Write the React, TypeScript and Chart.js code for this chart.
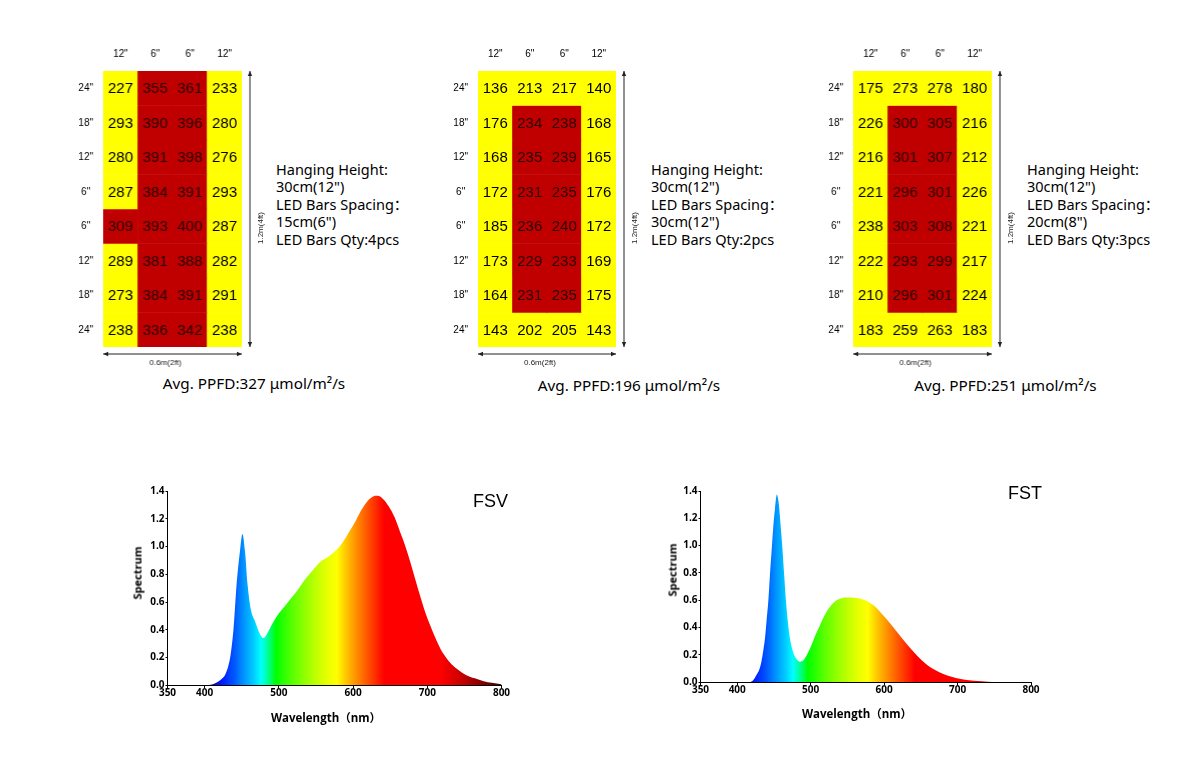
import React, { useEffect, useRef } from "react";
import { Chart, registerables } from "chart.js";

Chart.register(...registerables);

// ---------- PPFD grid data ----------
const COLUMN_LABELS = ['12"', '6"', '6"', '12"'];
const ROW_LABELS = ['24"', '18"', '12"', '6"', '6"', '12"', '18"', '24"'];

const GRID1_VALUES = [
  [227, 355, 361, 233],
  [293, 390, 396, 280],
  [280, 391, 398, 276],
  [287, 384, 391, 293],
  [309, 393, 400, 287],
  [289, 381, 388, 282],
  [273, 384, 391, 291],
  [238, 336, 342, 238],
];
const GRID1_HIGH = [
  [0, 1, 1, 0],
  [0, 1, 1, 0],
  [0, 1, 1, 0],
  [0, 1, 1, 0],
  [1, 1, 1, 0],
  [0, 1, 1, 0],
  [0, 1, 1, 0],
  [0, 1, 1, 0],
];

const GRID2_VALUES = [
  [136, 213, 217, 140],
  [176, 234, 238, 168],
  [168, 235, 239, 165],
  [172, 231, 235, 176],
  [185, 236, 240, 172],
  [173, 229, 233, 169],
  [164, 231, 235, 175],
  [143, 202, 205, 143],
];
const GRID2_HIGH = [
  [0, 0, 0, 0],
  [0, 1, 1, 0],
  [0, 1, 1, 0],
  [0, 1, 1, 0],
  [0, 1, 1, 0],
  [0, 1, 1, 0],
  [0, 1, 1, 0],
  [0, 0, 0, 0],
];

const GRID3_VALUES = [
  [175, 273, 278, 180],
  [226, 300, 305, 216],
  [216, 301, 307, 212],
  [221, 296, 301, 226],
  [238, 303, 308, 221],
  [222, 293, 299, 217],
  [210, 296, 301, 224],
  [183, 259, 263, 183],
];
const GRID3_HIGH = GRID2_HIGH;

const HANGING_HEIGHT = ['30cm(12")', '30cm(12")', '30cm(12")'];
const BAR_SPACING = ['15cm(6")', '30cm(12")', '20cm(8")'];
const BAR_QTY = [4, 2, 3];
const AVG_PPFD = [327, 196, 251];

// ---------- Spectrum data ----------
const FSV_WAVELENGTH = [
  350, 400, 405, 412, 418, 424, 428, 432, 435, 439, 443, 447.5, 451, 454.5, 458,
  462.5, 468, 474, 479, 486, 492, 499, 508, 517, 526, 535, 546, 556, 565, 572,
  582, 594, 604, 612, 620, 627, 633, 640, 648, 656, 663, 670, 677, 684, 690, 697,
  704, 711, 718, 724, 733, 742, 752, 764, 776, 787, 800,
];
const FSV_SPECTRUM = [
  0, 0, 0.002, 0.01, 0.026, 0.05, 0.08, 0.14, 0.22, 0.41, 0.72, 0.96, 1.09, 0.96, 0.72,
  0.54, 0.46, 0.375, 0.34, 0.39, 0.45, 0.51, 0.57, 0.63, 0.69, 0.76, 0.83, 0.89, 0.92, 0.95,
  1.0, 1.1, 1.19, 1.27, 1.33, 1.36, 1.365, 1.345, 1.29, 1.21, 1.11, 1.01, 0.89, 0.76, 0.65, 0.53,
  0.43, 0.34, 0.26, 0.21, 0.15, 0.11, 0.075, 0.05, 0.03, 0.018, 0.007,
];

const FST_WAVELENGTH = [
  350, 417, 422, 426, 430, 433, 435.5, 438, 440, 442.3, 444.5, 446.8, 449, 451.4, 454,
  456, 457.3, 459.5, 461.8, 464, 466.4, 469, 471.8, 475, 478.6, 482, 485.4, 489, 492,
  496, 501, 507, 513, 519, 526, 533, 540, 547, 554, 560, 567, 574, 580, 586, 592, 601,
  610, 619, 628, 637, 646, 655, 664, 676, 687, 699, 710, 722, 733, 748, 800,
];
const FST_SPECTRUM = [
  0, 0, 0.015, 0.05, 0.09, 0.15, 0.23, 0.33, 0.45, 0.59, 0.78, 0.96, 1.13, 1.27, 1.375,
  1.33, 1.27, 1.12, 0.96, 0.78, 0.59, 0.44, 0.32, 0.24, 0.186, 0.16, 0.149, 0.155, 0.173,
  0.21, 0.27, 0.35, 0.42, 0.49, 0.55, 0.59, 0.61, 0.62, 0.62, 0.618, 0.612, 0.6, 0.583, 0.56, 0.53, 0.475,
  0.418, 0.357, 0.296, 0.24, 0.186, 0.142, 0.105, 0.07, 0.046, 0.028, 0.017, 0.009, 0.005, 0, 0,
];

const X_TICK_VALUES = [350, 400, 500, 600, 700, 800];
const Y_TICK_VALUES = [0, 0.2, 0.4, 0.6, 0.8, 1.0, 1.2, 1.4];

// colour of light by wavelength (style)
const SPECTRUM_STOPS: [number, string][] = [
  [395, "#1a0090"], [412, "#1000c8"], [425, "#0020ff"], [440, "#0058ff"], [452, "#0090ff"],
  [465, "#00c8ff"], [476, "#00ffff"], [487, "#00ff80"], [496, "#00ff00"], [520, "#60ff00"],
  [545, "#b0ff00"], [565, "#e8ff00"], [578, "#ffff00"], [592, "#ffc000"], [608, "#ff8000"],
  [625, "#ff4000"], [642, "#ff0000"], [718, "#ff0000"], [750, "#c00000"], [775, "#800000"],
  [800, "#4a0000"],
];

const RED = "#c00000";
const YELLOW = "#ffff00";

function drawArrow(ctx: CanvasRenderingContext2D, x1: number, y1: number, x2: number, y2: number) {
  const ang = Math.atan2(y2 - y1, x2 - x1);
  const head = 5;
  const hw = 2.2;
  ctx.beginPath();
  ctx.moveTo(x1, y1);
  ctx.lineTo(x2, y2);
  ctx.stroke();
  const tip = (x: number, y: number, a: number) => {
    ctx.beginPath();
    ctx.moveTo(x, y);
    ctx.lineTo(x - head * Math.cos(a) + hw * Math.sin(a), y - head * Math.sin(a) - hw * Math.cos(a));
    ctx.lineTo(x - head * Math.cos(a) - hw * Math.sin(a), y - head * Math.sin(a) + hw * Math.cos(a));
    ctx.closePath();
    ctx.fill();
  };
  tip(x2, y2, ang);
  tip(x1, y1, ang + Math.PI);
}

const GRID_Y_AXIS_W = 35;
const GRID_X_AXIS_H = 31;
const GRID_PAD_R = 28;
const GRID_PAD_B = 24;
const GRID_AREA_W = 138.5;
const GRID_AREA_H = 276;

function PpfdGrid({ values, high, areaLeft, areaTop }: { values: number[][]; high: number[][]; areaLeft: number; areaTop: number }) {
  const ref = useRef<HTMLCanvasElement>(null);
  const width = GRID_Y_AXIS_W + GRID_AREA_W + GRID_PAD_R;
  const height = GRID_X_AXIS_H + GRID_AREA_H + GRID_PAD_B;
  useEffect(() => {
    const labelPlugin = {
      id: "cellLabels",
      afterDatasetsDraw(chart: any) {
        const ctx = chart.ctx as CanvasRenderingContext2D;
        ctx.save();
        ctx.font = '15px "Liberation Sans", Arial, sans-serif';
        ctx.textAlign = "center";
        ctx.textBaseline = "middle";
        chart.data.datasets.forEach((_: any, r: number) => {
          const meta = chart.getDatasetMeta(r);
          meta.data.forEach((bar: any, c: number) => {
            const { x, y, base } = bar.getProps(["x", "y", "base"], true);
            ctx.fillStyle = high[r][c] ? "#2a0000" : "#000";
            ctx.fillText(String(values[r][c]), x, (y + base) / 2 + 1);
          });
        });
        ctx.restore();
      },
      afterDraw(chart: any) {
        const ctx = chart.ctx as CanvasRenderingContext2D;
        const a = chart.chartArea;
        ctx.save();
        ctx.strokeStyle = "#222";
        ctx.fillStyle = "#222";
        ctx.lineWidth = 1;
        const vx = a.right + 8;
        drawArrow(ctx, vx, a.top, vx, a.bottom);
        const hy = a.bottom + 7;
        drawArrow(ctx, a.left, hy, a.right, hy);
        ctx.font = '8px "Liberation Sans", Arial, sans-serif';
        ctx.fillStyle = "#222";
        ctx.textAlign = "center";
        ctx.textBaseline = "middle";
        ctx.fillText("0.6m(2ft)", (a.left + a.right) / 2 - 7, a.bottom + 16);
        ctx.translate(a.right + 19, (a.top + a.bottom) / 2 + 19);
        ctx.rotate(-Math.PI / 2);
        ctx.fillText("1.2m(4ft)", 0, 0);
        ctx.restore();
      },
    };
    const chart = new Chart(ref.current as HTMLCanvasElement, {
      type: "bar",
      data: {
        labels: COLUMN_LABELS,
        datasets: ROW_LABELS.map((row, r) => ({
          label: row,
          data: COLUMN_LABELS.map(() => 1),
          backgroundColor: high[r].map((h) => (h ? RED : YELLOW)),
          borderWidth: 0,
          barPercentage: 1,
          categoryPercentage: 1,
        })),
      },
      options: {
        animation: false,
        responsive: false,
        maintainAspectRatio: false,
        events: [],
        layout: { padding: { top: 0, left: 0, right: GRID_PAD_R, bottom: GRID_PAD_B } },
        plugins: { legend: { display: false }, tooltip: { enabled: false } },
        scales: {
          x: {
            type: "category",
            position: "top",
            stacked: true,
            grid: { display: false, drawTicks: false },
            border: { display: false },
            ticks: {
              color: "#000",
              font: { family: '"Liberation Sans", Arial, sans-serif', size: 10 },
              padding: 11,
              maxRotation: 0,
              autoSkip: false,
            },
            afterFit: (s: any) => {
              s.height = GRID_X_AXIS_H;
            },
          },
          y: {
            type: "linear",
            stacked: true,
            min: 0,
            max: ROW_LABELS.length,
            reverse: true,
            grid: { display: false, drawTicks: false },
            border: { display: false },
            afterBuildTicks: (s: any) => {
              s.ticks = ROW_LABELS.map((_, i) => ({ value: i + 0.5 }));
            },
            ticks: {
              color: "#000",
              font: { family: '"Liberation Sans", Arial, sans-serif', size: 10 },
              padding: 10,
              crossAlign: "center",
              autoSkip: false,
              callback: (_v: any, i: number) => ROW_LABELS[i],
            },
            afterFit: (s: any) => {
              s.width = GRID_Y_AXIS_W;
            },
          },
        },
      } as any,
      plugins: [labelPlugin],
    });
    return () => chart.destroy();
  }, []);
  return (
    <canvas
      ref={ref}
      width={width}
      height={height}
      style={{ position: "absolute", left: areaLeft - GRID_Y_AXIS_W, top: areaTop - GRID_X_AXIS_H, width, height }}
    />
  );
}

function SpectrumChart({
  wavelength,
  spectrum,
  left,
  top,
  axisW,
  axisH,
  padRight,
}: {
  wavelength: number[];
  spectrum: number[];
  left: number;
  top: number;
  axisW: number;
  axisH: number;
  padRight: number;
}) {
  const ref = useRef<HTMLCanvasElement>(null);
  const width = 400;
  const height = 250;
  useEffect(() => {
    const tickFont = { family: '"Open Sans", "Noto Sans", sans-serif', size: 10, weight: 700 as any, lineHeight: 1 };
    const chart = new Chart(ref.current as HTMLCanvasElement, {
      type: "line",
      data: {
        datasets: [
          {
            data: wavelength.map((w, i) => ({ x: w, y: spectrum[i] })),
            borderWidth: 0,
            borderColor: "rgba(0,0,0,0)",
            pointRadius: 0,
            fill: "origin",
            cubicInterpolationMode: "monotone",
            backgroundColor: (c: any) => {
              const ch = c.chart;
              if (!ch.chartArea) return "rgba(0,0,0,0)";
              const xs = ch.scales.x;
              const x0 = xs.getPixelForValue(350);
              const x1 = xs.getPixelForValue(800);
              const g = ch.ctx.createLinearGradient(x0, 0, x1, 0);
              SPECTRUM_STOPS.forEach(([w, col]) => g.addColorStop(Math.min(1, Math.max(0, (w - 350) / 450)), col));
              return g;
            },
          },
        ],
      },
      options: {
        animation: false,
        responsive: false,
        maintainAspectRatio: false,
        events: [],
        layout: { padding: { top: 11, left: 0, right: padRight, bottom: 0 } },
        plugins: { legend: { display: false }, tooltip: { enabled: false } },
        scales: {
          x: {
            type: "linear",
            min: 350,
            max: 800,
            afterBuildTicks: (s: any) => {
              s.ticks = X_TICK_VALUES.map((v) => ({ value: v }));
            },
            grid: { display: true, drawOnChartArea: false, drawTicks: true, tickLength: 3, color: "#000", tickColor: "#000" },
            border: { display: true, color: "#000", width: 1 },
            ticks: { color: "#000", font: tickFont, padding: 0, maxRotation: 0, autoSkip: false, callback: (v: any) => String(v) },
            afterFit: (s: any) => {
              s.height = axisH;
            },
          },
          y: {
            type: "linear",
            min: 0,
            max: 1.4,
            afterBuildTicks: (s: any) => {
              s.ticks = Y_TICK_VALUES.map((v) => ({ value: v }));
            },
            grid: { display: true, drawOnChartArea: false, drawTicks: true, tickLength: 2, color: "#000", tickColor: "#000" },
            border: { display: true, color: "#000", width: 1 },
            ticks: { color: "#000", font: tickFont, padding: 1, autoSkip: false, callback: (v: any) => Number(v).toFixed(1) },
            afterFit: (s: any) => {
              s.width = axisW;
            },
          },
        },
      } as any,
    });
    return () => chart.destroy();
  }, []);
  return <canvas ref={ref} width={width} height={height} style={{ position: "absolute", left, top, width, height }} />;
}

const infoFont = '"Noto Sans", "Noto Sans CJK SC", sans-serif';

function InfoBlock({ i, left }: { i: number; left: number }) {
  return (
    <div
      style={{
        position: "absolute",
        left,
        top: 160.6,
        fontFamily: infoFont,
        fontSize: 14.5,
        lineHeight: "17.5px",
        color: "#000",
        whiteSpace: "pre",
      }}
    >
      <div>Hanging Height:</div>
      <div>{HANGING_HEIGHT[i]}</div>
      <div>LED Bars Spacing：</div>
      <div>{BAR_SPACING[i]}</div>
      <div>{`LED Bars Qty:${BAR_QTY[i]}pcs`}</div>
    </div>
  );
}

function AvgLabel({ i, cx, top }: { i: number; cx: number; top: number }) {
  return (
    <div
      style={{
        position: "absolute",
        left: cx - 150,
        width: 300,
        top,
        textAlign: "center",
        fontFamily: infoFont,
        fontSize: 15.3,
        lineHeight: "20px",
        color: "#000",
        whiteSpace: "pre",
      }}
    >
      {`Avg. PPFD:${AVG_PPFD[i]} μmol/m²/s`}
    </div>
  );
}

const titleFont = '"Open Sans", "Noto Sans", "Noto Sans CJK SC", sans-serif';

function CenterText({ text, cx, cy, rotate, size, weight, family }: { text: string; cx: number; cy: number; rotate?: boolean; size: number; weight: number; family: string }) {
  return (
    <div
      style={{
        position: "absolute",
        left: cx,
        top: cy,
        transform: `translate(-50%, -50%)${rotate ? " rotate(-90deg)" : ""}`,
        fontFamily: family,
        fontSize: size,
        fontWeight: weight,
        lineHeight: 1,
        whiteSpace: "pre",
        color: "#000",
      }}
    >
      {text}
    </div>
  );
}

export default function App() {
  return (
    <div style={{ position: "absolute", left: 0, top: 0, width: 1200, height: 780, background: "#fff", overflow: "hidden" }}>
      <PpfdGrid values={GRID1_VALUES} high={GRID1_HIGH} areaLeft={103} areaTop={71} />
      <PpfdGrid values={GRID2_VALUES} high={GRID2_HIGH} areaLeft={477.5} areaTop={71} />
      <PpfdGrid values={GRID3_VALUES} high={GRID3_HIGH} areaLeft={853} areaTop={71} />
      <InfoBlock i={0} left={276} />
      <InfoBlock i={1} left={651} />
      <InfoBlock i={2} left={1027} />
      <AvgLabel i={0} cx={254} top={372.5} />
      <AvgLabel i={1} cx={629} top={375} />
      <AvgLabel i={2} cx={1005.5} top={375} />

      <SpectrumChart wavelength={FSV_WAVELENGTH} spectrum={FSV_SPECTRUM} left={120} top={480} axisW={47.5} axisH={44.7} padRight={18.5} />
      <SpectrumChart wavelength={FST_WAVELENGTH} spectrum={FST_SPECTRUM} left={660} top={480} axisW={40.5} axisH={48} padRight={29} />

      <CenterText text="Spectrum" cx={136.7} cy={573} rotate size={11} weight={700} family={titleFont} />
      <CenterText text="Wavelength（nm）" cx={326} cy={717.7} size={11.5} weight={700} family={titleFont} />
      <CenterText text="Spectrum" cx={671.7} cy={570} rotate size={11} weight={700} family={titleFont} />
      <CenterText text="Wavelength（nm）" cx={857} cy={714.3} size={11.5} weight={700} family={titleFont} />
      <CenterText text="FSV" cx={490.5} cy={500.7} size={18} weight={400} family='"Liberation Sans", Arial, sans-serif' />
      <CenterText text="FST" cx={1025} cy={493.3} size={18} weight={400} family='"Liberation Sans", Arial, sans-serif' />
    </div>
  );
}
